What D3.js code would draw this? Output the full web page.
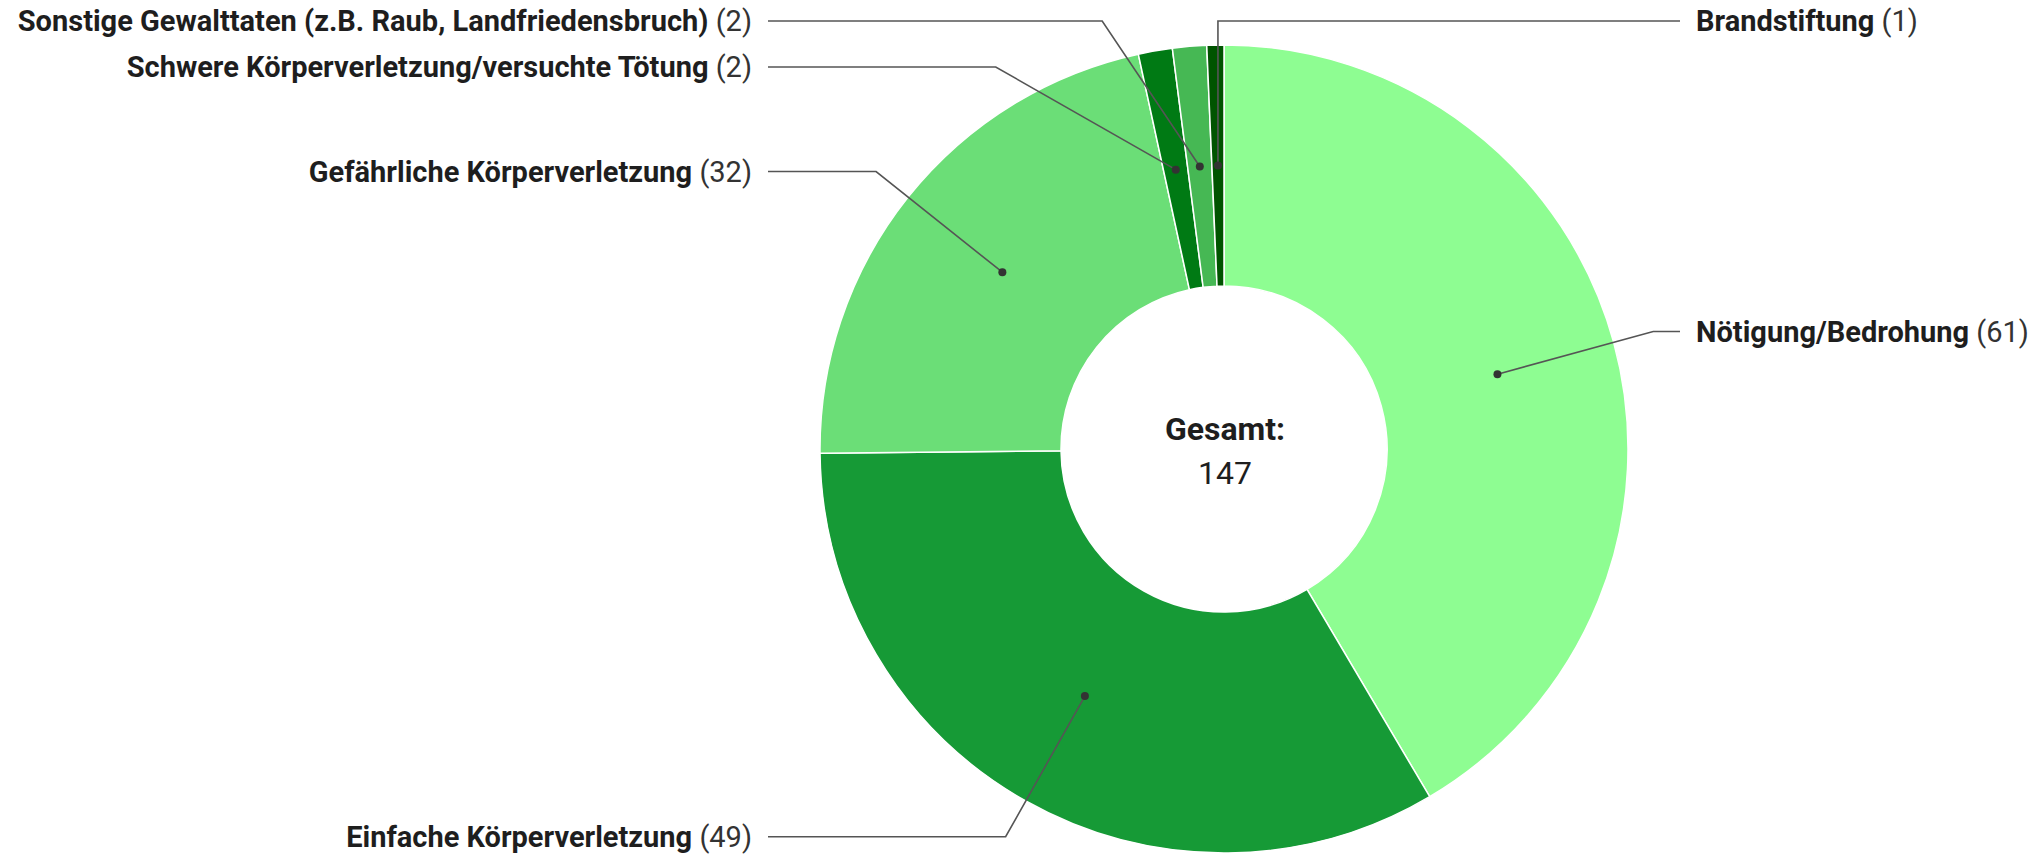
<!DOCTYPE html>
<html>
<head>
<meta charset="utf-8">
<script src="https://cdn.jsdelivr.net/npm/d3@7"></script>
<style>
  html, body { margin: 0; padding: 0; background: #fff; }
  svg { display: block; font-family: Roboto, "Noto Sans", sans-serif; }
</style>
</head>
<body>
<svg id="chart" width="2042" height="857"></svg>
<script>
// ---- data ----
const categories = [
  "Nötigung/Bedrohung",
  "Einfache Körperverletzung",
  "Gefährliche Körperverletzung",
  "Schwere Körperverletzung/versuchte Tötung",
  "Sonstige Gewalttaten (z.B. Raub, Landfriedensbruch)",
  "Brandstiftung"
];
const values = [61, 49, 32, 2, 2, 1];
const colors = ["#8efd92", "#169a36", "#6bde77", "#007a14", "#46b854", "#005400"];
const totalLabel = "Gesamt:";

// ---- layout ----
const W = 2042, H = 857;
const cx = 1224, cy = 449;
const outerR = 404, innerR = 163;
const labelR = outerR + 41;
const lineGap = 456;     // horizontal end of leader line from centre
const textGap = 472;     // text anchor from centre
const spacing = 46;
const topBound = 21, bottomBound = H - 20;
const fontSize = 29;

const svg = d3.select("#chart");
const g = svg.append("g").attr("transform", `translate(${cx},${cy})`);

const data = categories.map((c, i) => ({ name: c, value: values[i], color: colors[i] }));
const pie = d3.pie().sort(null).value(d => d.value);
const arcs = pie(data);
const arc = d3.arc().innerRadius(innerR).outerRadius(outerR);

g.selectAll("path.slice").data(arcs).join("path")
  .attr("class", "slice")
  .attr("d", arc)
  .attr("fill", d => d.data.color)
  .attr("stroke", "#fff")
  .attr("stroke-width", 1.5);

// label placement
const items = arcs.map(a => {
  const mid = (a.startAngle + a.endAngle) / 2;
  let side = mid < Math.PI ? 1 : -1;
  return { a, mid, side, natural: side, desired: -Math.cos(mid) * labelR };
});
const count = s => items.filter(it => it.side === s).length;
// slices right at the top may switch to the less crowded side
items.forEach(it => {
  const fromTop = Math.min(it.mid, 2 * Math.PI - it.mid);
  if (fromTop < 0.04) {
    const other = -it.side;
    if (count(other) < count(it.side)) it.side = other;
  }
});
[-1, 1].forEach(s => {
  const list = items.filter(it => it.side === s).sort((p, q) => p.desired - q.desired);
  let prev = -Infinity;
  list.forEach(it => {
    let y = Math.max(it.desired, topBound - cy, prev + spacing);
    it.y = y;
    prev = y;
  });
  let next = Infinity;
  for (let i = list.length - 1; i >= 0; i--) {
    const it = list[i];
    it.y = Math.min(it.y, bottomBound - cy, next - spacing);
    next = it.y;
  }
});
items.forEach(it => {
  const c = arc.centroid(it.a);
  it.dot = c;
  let ex;
  if (it.side !== it.natural) {
    ex = c[0];
  } else {
    const dy = Math.min(Math.abs(it.y), labelR);
    ex = it.side * Math.sqrt(labelR * labelR - dy * dy);
  }
  it.elbow = [ex, it.y];
  it.end = [it.side * lineGap, it.y];
});

const line = d3.line();
g.selectAll("path.leader").data(items).join("path")
  .attr("class", "leader")
  .attr("d", d => line([d.dot, d.elbow, d.end]))
  .attr("fill", "none")
  .attr("stroke", "#555")
  .attr("stroke-width", 1.6);

g.selectAll("circle.dot").data(items).join("circle")
  .attr("class", "dot")
  .attr("cx", d => d.dot[0])
  .attr("cy", d => d.dot[1])
  .attr("r", 4)
  .attr("fill", "#333");

const labels = g.selectAll("text.lab").data(items).join("text")
  .attr("class", "lab")
  .attr("x", d => d.side * textGap)
  .attr("y", d => d.y)
  .attr("dy", "0.36em")
  .attr("text-anchor", d => d.side > 0 ? "start" : "end")
  .attr("font-size", fontSize)
  .attr("fill", "#1e1e1e");
labels.append("tspan").attr("font-weight", 700).text(d => d.a.data.name + " ");
labels.append("tspan").attr("font-weight", 400).attr("fill", "#333").text(d => `(${d.a.data.value})`);

// centre text
const total = d3.sum(values);
g.append("text")
  .attr("x", 1).attr("y", -9)
  .attr("text-anchor", "middle")
  .attr("font-size", 32).attr("font-weight", 700).attr("fill", "#1e1e1e")
  .text(totalLabel);
g.append("text")
  .attr("x", 1).attr("y", 35)
  .attr("text-anchor", "middle")
  .attr("font-size", 32).attr("font-weight", 400).attr("fill", "#1e1e1e")
  .text(total);
</script>
</body>
</html>
